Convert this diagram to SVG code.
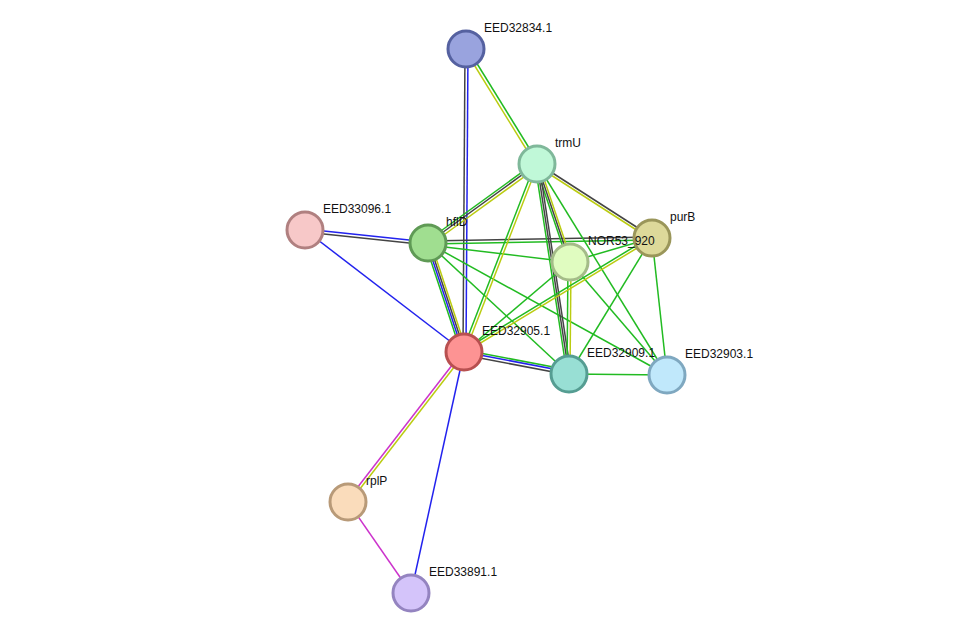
<svg xmlns="http://www.w3.org/2000/svg" width="976" height="639" viewBox="0 0 976 639">
<style>
line{stroke-width:1.5;fill:none}
.g{stroke:#22bb22}.k{stroke:#444}.b{stroke:#2222ee}.y{stroke:#bbcc11}.m{stroke:#cc33cc}
circle{stroke-width:3}
text{font-family:"Liberation Sans",Arial,sans-serif;font-size:12px;fill:#111}
</style>
<rect width="976" height="639" fill="#fff"/>
<g id="edges">
<line class="k" x1="465" y1="49" x2="463" y2="352"/><line class="b" x1="468" y1="49" x2="466" y2="352"/>
<line class="y" x1="465" y1="50" x2="536" y2="165"/><line class="g" x1="468" y1="49" x2="539" y2="164"/>
<line class="b" x1="305" y1="229" x2="428" y2="242"/><line class="k" x1="305" y1="232" x2="428" y2="245"/>
<line class="b" x1="305" y1="230" x2="464" y2="352"/>
<line class="g" x1="427" y1="241" x2="536" y2="162"/><line class="k" x1="428" y1="243" x2="537" y2="164"/><line class="y" x1="430" y1="245" x2="539" y2="166"/>
<line class="g" x1="428" y1="245" x2="570" y2="262"/>
<line class="k" x1="428" y1="241" x2="652" y2="237"/><line class="g" x1="428" y1="244" x2="652" y2="240"/>
<line class="g" x1="425" y1="243" x2="461" y2="352"/><line class="b" x1="427" y1="243" x2="463" y2="352"/><line class="k" x1="429" y1="243" x2="465" y2="352"/><line class="y" x1="431" y1="243" x2="467" y2="352"/>
<line class="g" x1="428" y1="243" x2="569" y2="374"/>
<line class="g" x1="428" y1="243" x2="667" y2="375"/>
<line class="g" x1="535" y1="164" x2="462" y2="352"/><line class="y" x1="538" y1="164" x2="465" y2="352"/>
<line class="g" x1="535" y1="164" x2="568" y2="262"/><line class="k" x1="537" y1="164" x2="570" y2="262"/><line class="y" x1="539" y1="164" x2="572" y2="262"/>
<line class="k" x1="537" y1="163" x2="652" y2="237"/><line class="y" x1="537" y1="166" x2="652" y2="240"/>
<line class="g" x1="535" y1="164" x2="567" y2="374"/><line class="k" x1="537" y1="164" x2="569" y2="374"/><line class="k" x1="539" y1="164" x2="571" y2="374"/>
<line class="g" x1="537" y1="164" x2="667" y2="375"/>
<line class="g" x1="570" y1="262" x2="652" y2="238"/>
<line class="g" x1="570" y1="262" x2="464" y2="352"/>
<line class="g" x1="568" y1="262" x2="567" y2="374"/><line class="y" x1="571" y1="262" x2="570" y2="374"/>
<line class="g" x1="570" y1="262" x2="667" y2="375"/>
<line class="g" x1="652" y1="236" x2="464" y2="350"/><line class="y" x1="652" y1="239" x2="464" y2="353"/>
<line class="g" x1="652" y1="238" x2="569" y2="374"/>
<line class="g" x1="652" y1="238" x2="667" y2="375"/>
<line class="g" x1="464" y1="350" x2="569" y2="370"/><line class="b" x1="464" y1="352" x2="569" y2="372"/><line class="k" x1="464" y1="355" x2="569" y2="375"/>
<line class="g" x1="569" y1="374" x2="667" y2="375"/>
<line class="m" x1="463" y1="351" x2="347" y2="501"/><line class="y" x1="465" y1="353" x2="349" y2="503"/>
<line class="b" x1="464" y1="352" x2="411" y2="593"/>
<line class="m" x1="348" y1="502" x2="411" y2="593"/>
</g>
<g id="EED32834.1"><circle cx="466" cy="49" r="18" fill="#99a3de" stroke="#5561a0"/><text x="484" y="32">EED32834.1</text></g>
<g id="trmU"><circle cx="537" cy="164" r="18" fill="#c0f8d8" stroke="#7fb89a"/><text x="555" y="147">trmU</text></g>
<g id="EED33096.1"><circle cx="305" cy="230" r="18" fill="#f7c8c8" stroke="#b08080"/><text x="323" y="213">EED33096.1</text></g>
<g id="hflD"><circle cx="428" cy="243" r="18" fill="#a0de90" stroke="#5f9a55"/><text x="446" y="226">hflD</text></g>
<g id="purB"><circle cx="652" cy="238" r="18" fill="#ddd99a" stroke="#9a965a"/><text x="670" y="221">purB</text></g>
<g id="NOR53_920"><circle cx="570" cy="262" r="18" fill="#e0fcc0" stroke="#a4bc88"/><text x="588" y="245">NOR53_920</text></g>
<g id="EED32905.1"><circle cx="464" cy="352" r="18" fill="#fd9393" stroke="#b85050"/><text x="482" y="335">EED32905.1</text></g>
<g id="EED32909.1"><circle cx="569" cy="374" r="18" fill="#98dfd4" stroke="#559d92"/><text x="587" y="357">EED32909.1</text></g>
<g id="EED32903.1"><circle cx="667" cy="375" r="18" fill="#c0e8fb" stroke="#7fa8c0"/><text x="685" y="358">EED32903.1</text></g>
<g id="rplP"><circle cx="348" cy="502" r="18" fill="#fadcbb" stroke="#b89a78"/><text x="366" y="485">rplP</text></g>
<g id="EED33891.1"><circle cx="411" cy="593" r="18" fill="#d4c4fa" stroke="#9484c0"/><text x="429" y="576">EED33891.1</text></g>
</svg>
